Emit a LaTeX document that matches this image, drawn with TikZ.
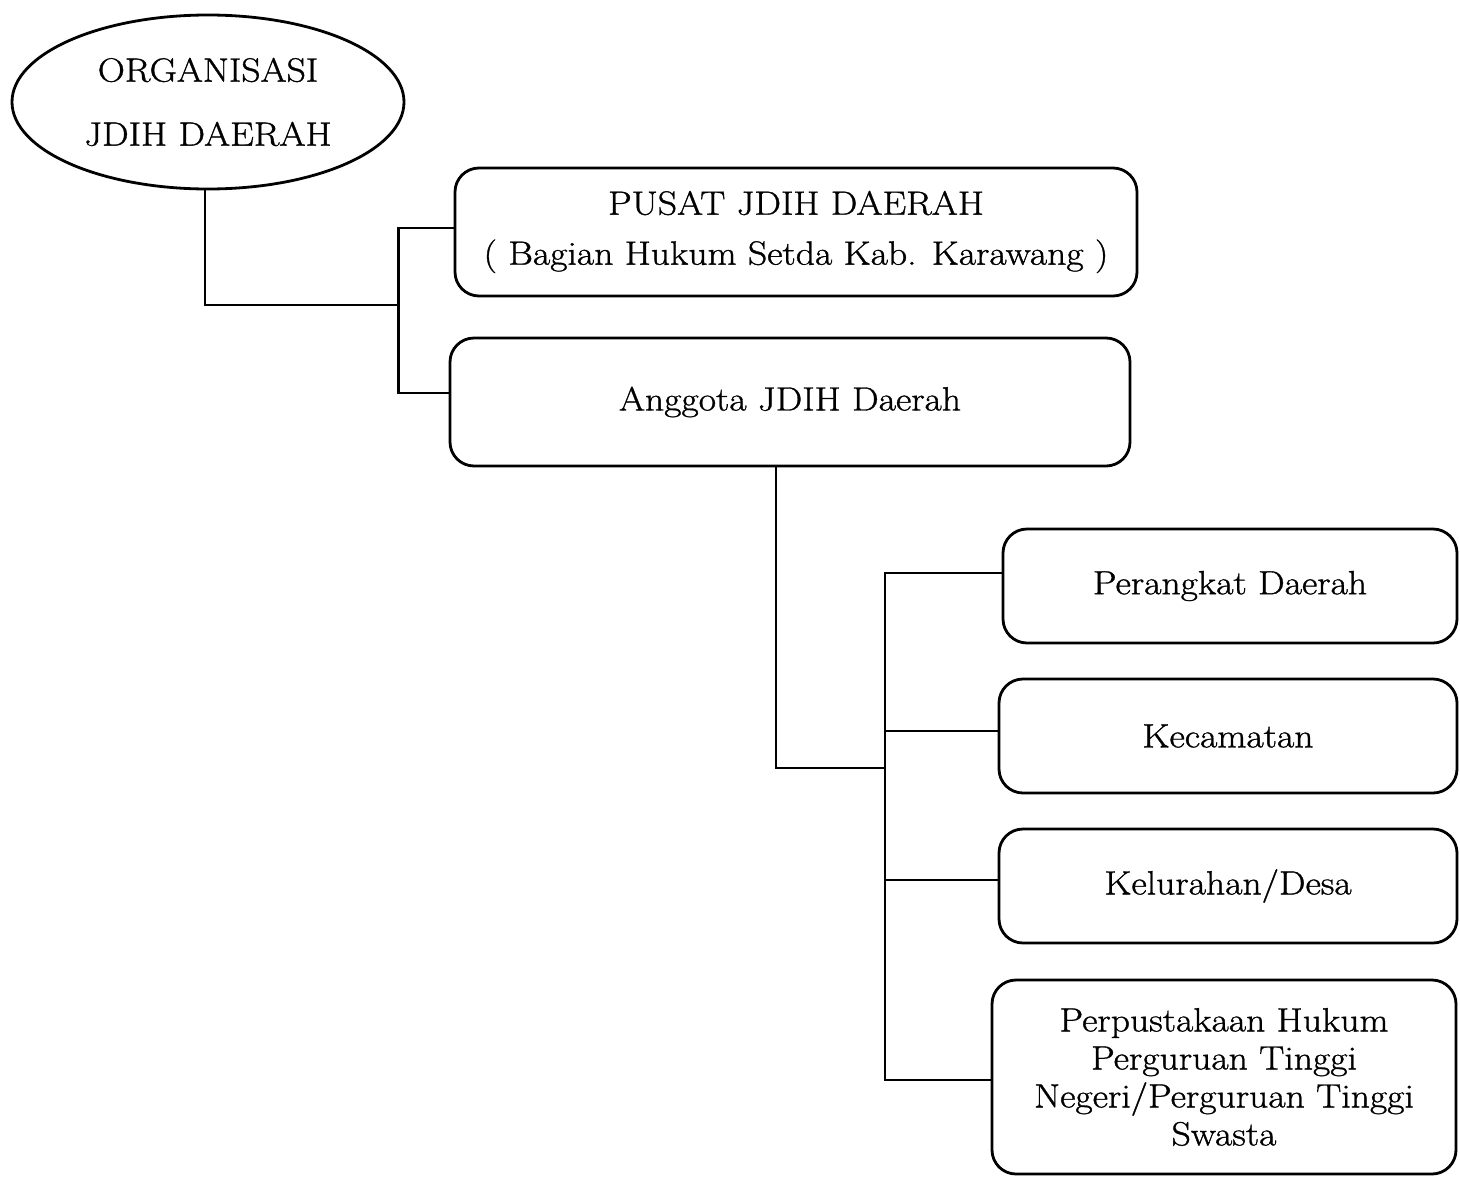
\documentclass[tikz,border=0pt]{standalone}
\usepackage{fontspec}
\setmainfont{Latin Modern Roman}[FakeStretch=1.12, FakeBold=1.0]
\usetikzlibrary{shapes.geometric,calc}
\begin{document}
\begin{tikzpicture}[x=0.5pt,y=-0.5pt,
  line width=1.4pt,
  txt/.style={font=\fontsize{16.8}{19}\selectfont, align=center, text=black},
  rbox/.style={txt, draw, rounded corners=12pt, inner sep=0pt},
  oval/.style={txt, draw, ellipse, inner sep=0pt}]
\useasboundingbox (0,0) rectangle (1460,1178);
\node[oval, minimum width=196pt, minimum height=87pt] (e) at (208,102)
  {ORGANISASI\\[13pt]JDIH DAERAH};
\node[rbox, minimum width=341pt, minimum height=64pt] (b1) at (796,232)
  {PUSAT JDIH DAERAH\\[6pt]( Bagian Hukum Setda Kab. Karawang )};
\node[rbox, minimum width=340pt, minimum height=64pt] (b2) at (790,402)
  {Anggota JDIH Daerah};
\node[rbox, minimum width=227pt, minimum height=57pt] (b3) at (1230,586)
  {Perangkat Daerah};
\node[rbox, minimum width=229pt, minimum height=57pt] (b4) at (1228,736)
  {Kecamatan};
\node[rbox, minimum width=229pt, minimum height=57pt] (b5) at (1228,886)
  {Kelurahan/Desa};
\node[rbox, minimum width=232pt, minimum height=97pt] (b6) at (1224,1077)
  {Perpustakaan Hukum\\Perguruan Tinggi\\Negeri/Perguruan Tinggi\\Swasta};
% upper connectors
\coordinate (j1) at (400,305);
\draw ($(b1.west)+(0,-4)$) -- ++(-55,0) coordinate (t1) |- ($(b2.west)+(0,-9)$);
\draw ($(e.south)+(-3,0)$) |- (j1);
% lower connectors
\coordinate (j2) at (885,768);
\draw ($(b2.south)+(-14,0)$) |- (j2);
\draw ($(b3.west)+(0,-13)$) -- (885,573) coordinate (t3) -- (885,1080) coordinate (t6) -- ($(b6.west)+(0,3)$);
\draw ($(b4.west)+(0,-5)$) -- (885,731);
\draw ($(b5.west)+(0,-6)$) -- (885,880);
\end{tikzpicture}
\end{document}
